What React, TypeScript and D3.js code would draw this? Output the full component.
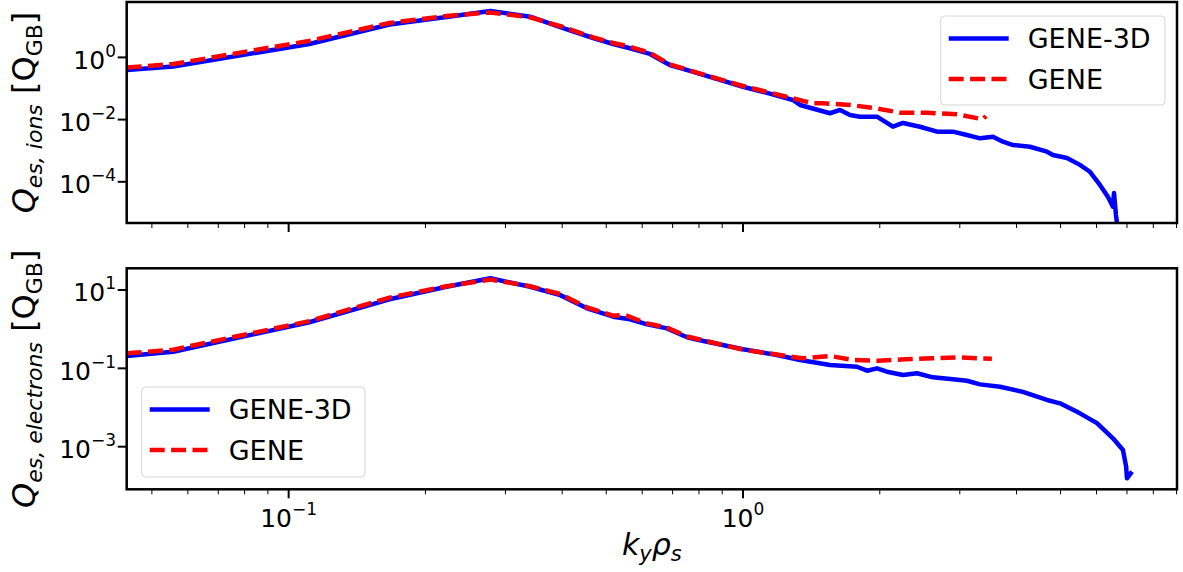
import * as d3 from "d3";

// ky rho_s grid and fluxes
const kyIons3D = [0.044, 0.0557, 0.111, 0.1667, 0.2226, 0.278, 0.34, 0.402, 0.468, 0.518, 0.564, 0.624, 0.69, 0.764, 1.0, 1.14, 1.288, 1.335, 1.554, 1.635, 1.72, 1.809, 1.972, 2.138, 2.249, 2.452, 2.673, 2.898, 3.111, 3.324, 3.549, 3.733, 3.929, 4.281, 4.667, 4.81, 5.164, 5.515, 5.802, 6.104, 6.355, 6.518, 6.555, 6.62, 6.686];
const qIons3D = [0.39, 0.51, 2.7, 11.4, 19.9, 31, 20.4, 8.8, 4.2, 2.7, 1.96, 1.29, 0.57, 0.37, 0.114, 0.07, 0.0427, 0.0295, 0.016, 0.0204, 0.0141, 0.0124, 0.0124, 0.0059, 0.0078, 0.0059, 0.0041, 0.0041, 0.0032, 0.0025, 0.0028, 0.00195, 0.00152, 0.00134, 0.00093, 0.00073, 0.00058, 0.00035, 0.00021, 0.000079, 0.000033, 0.0000158, 0.0000436, 0.0000086, 0.0000028];

const kyIonsGene = [0.044, 0.0557, 0.111, 0.1667, 0.2226, 0.278, 0.34, 0.402, 0.468, 0.518, 0.564, 0.624, 0.69, 0.764, 1.0, 1.14, 1.288, 1.426, 1.5, 1.72, 1.972, 2.216, 2.541, 2.958, 3.373, 3.425];
const qIonsGene = [0.47, 0.61, 3.4, 12.8, 21.4, 27.8, 19.5, 9.5, 4.4, 2.9, 2.2, 1.4, 0.6, 0.38, 0.12, 0.075, 0.048, 0.0334, 0.0334, 0.0295, 0.0228, 0.0167, 0.0167, 0.0148, 0.0102, 0.013];

const kyElec3D = [0.044, 0.0557, 0.111, 0.1667, 0.2226, 0.278, 0.34, 0.396, 0.4535, 0.518, 0.564, 0.615, 0.68, 0.753, 0.804, 1.0, 1.188, 1.335, 1.554, 1.782, 1.875, 1.972, 2.074, 2.25, 2.415, 2.618, 2.898, 3.111, 3.324, 3.679, 4.13, 4.667, 4.985, 5.515, 6.013, 6.52, 6.86, 6.97, 7.0, 7.18];
const qElec3D = [0.207, 0.266, 1.5, 5.79, 12.1, 19.9, 12.1, 7.4, 3.41, 2.08, 1.79, 1.33, 1.05, 0.62, 0.52, 0.306, 0.219, 0.163, 0.122, 0.11, 0.0871, 0.1, 0.0821, 0.0676, 0.0747, 0.059, 0.0525, 0.0483, 0.039, 0.034, 0.025, 0.0156, 0.0128, 0.0071, 0.004, 0.00164, 0.00082, 0.00031, 0.000156, 0.00023];

const kyElecGene = [0.044, 0.0557, 0.111, 0.1667, 0.2226, 0.278, 0.34, 0.396, 0.4535, 0.518, 0.55, 0.615, 0.68, 0.753, 1.0, 1.206, 1.349, 1.554, 1.746, 1.982, 2.273, 2.606, 2.973, 3.324, 3.53];
const qElecGene = [0.242, 0.3, 1.6, 6.4, 12.5, 18.5, 12.5, 7.9, 3.6, 2.2, 2.3, 1.4, 1.1, 0.65, 0.3, 0.219, 0.18, 0.207, 0.163, 0.156, 0.17, 0.18, 0.19, 0.18, 0.176];

const xMajor = [0.1, 1];
const xMajorExp = ["\u22121", "0"];
const ionsYTicks = [1, 0.01, 0.0001];
const ionsYExp = ["0", "\u22122", "\u22124"];
const elecYTicks = [10, 0.1, 0.001];
const elecYExp = ["1", "\u22121", "\u22123"];
const seriesNames = ["GENE-3D", "GENE"];

const W = 1183;
const H = 572;
const L = 126.7;
const R = 1177;
const FONT = "'DejaVu Sans', sans-serif";
const BLUE = "#0000ff";
const RED = "#ff0000";

const zip = (a, b) => a.map((v, i) => [v, b[i]]);

function Legend({ x, y, w, h }) {
  return (
    <g transform={`translate(${x},${y})`}>
      <rect width={w} height={h} rx={4} fill="#fff" fillOpacity={0.85} stroke="#d6d6d6" strokeWidth={1} />
      <line x1={8} x2={68} y1={22.5} y2={22.5} stroke={BLUE} strokeWidth={4.5} />
      <line x1={8} x2={68} y1={63} y2={63} stroke={RED} strokeWidth={4.5} strokeDasharray="15,6.4" />
      <text x={87} y={32} fontSize={27} fontFamily={FONT}>{seriesNames[0]}</text>
      <text x={87} y={73} fontSize={27} fontFamily={FONT}>{seriesNames[1]}</text>
    </g>
  );
}

export default function App() {
  const x = d3.scaleLog().domain([0.04401, 9.02]).range([L, R]);
  const minor = x.ticks().filter((t) => !xMajor.some((m) => Math.abs(m - t) < 1e-9));

  const panels = [
    {
      id: "ions",
      y0: 2,
      y1: 223,
      domain: [4.73e-6, 60.4],
      ticks: ionsYTicks,
      exps: ionsYExp,
      blue: zip(kyIons3D, qIons3D),
      red: zip(kyIonsGene, qIonsGene),
      sub: "es, ions",
      legend: { x: 940.7, y: 16, w: 224.3, h: 89 },
      xLabels: false,
    },
    {
      id: "elec",
      y0: 268.3,
      y1: 489.3,
      domain: [8.17e-5, 35.8],
      ticks: elecYTicks,
      exps: elecYExp,
      blue: zip(kyElec3D, qElec3D),
      red: zip(kyElecGene, qElecGene),
      sub: "es, electrons",
      legend: { x: 141.7, y: 387, w: 223.3, h: 90 },
      xLabels: true,
    },
  ];

  return (
    <svg width={W} height={H} style={{ position: "absolute", left: 0, top: 0, background: "#fff" }}>
      {panels.map((p) => {
        const y = d3.scaleLog().domain(p.domain).range([p.y1, p.y0]);
        const line = d3
          .line()
          .x((d) => x(d[0]))
          .y((d) => y(d[1]));
        const cy = (p.y0 + p.y1) / 2;
        return (
          <g key={p.id}>
            <defs>
              <clipPath id={`clip-${p.id}`}>
                <rect x={L} y={p.y0} width={R - L} height={p.y1 - p.y0} />
              </clipPath>
            </defs>
            <g clipPath={`url(#clip-${p.id})`}>
              <path d={line(p.blue)} fill="none" stroke={BLUE} strokeWidth={4.5} strokeLinejoin="round" />
              <path d={line(p.red)} fill="none" stroke={RED} strokeWidth={4.5} strokeDasharray="15,6.4" />
            </g>
            {/* x ticks */}
            {minor.map((t) => (
              <line key={`m${t}`} x1={x(t)} x2={x(t)} y1={p.y1} y2={p.y1 + 5} stroke="#000" strokeWidth={1} />
            ))}
            {xMajor.map((t, i) => (
              <g key={`M${t}`}>
                <line x1={x(t)} x2={x(t)} y1={p.y1} y2={p.y1 + 9} stroke="#000" strokeWidth={2} />
                {p.xLabels && (
                  <text x={x(t)} y={527} textAnchor="middle" fontSize={25} fontFamily={FONT}>
                    10<tspan dy={-12} fontSize={17}>{xMajorExp[i]}</tspan>
                  </text>
                )}
              </g>
            ))}
            {/* y ticks */}
            {p.ticks.map((t, i) => (
              <g key={`y${t}`}>
                <line x1={L - 9} x2={L} y1={y(t)} y2={y(t)} stroke="#000" strokeWidth={2} />
                <text x={116} y={y(t) + 11.5} textAnchor="end" fontSize={25} fontFamily={FONT}>
                  10<tspan dy={-12} fontSize={17}>{p.exps[i]}</tspan>
                </text>
              </g>
            ))}
            <rect x={L} y={p.y0} width={R - L} height={p.y1 - p.y0} fill="none" stroke="#000" strokeWidth={2.5} />
            <text transform={`translate(35,${cy}) rotate(-90)`} textAnchor="middle" fontSize={32} fontFamily={FONT}>
              <tspan fontStyle="italic">Q</tspan>
              <tspan fontStyle="italic" fontSize={22} dy={7}>{p.sub}</tspan>
              <tspan dy={-7}>{" ["}</tspan>
              <tspan>Q</tspan>
              <tspan fontSize={22} dy={7}>GB</tspan>
              <tspan dy={-7}>]</tspan>
            </text>
            <Legend {...p.legend} />
          </g>
        );
      })}
      <text x={(L + R) / 2} y={555} textAnchor="middle" fontSize={30} fontFamily={FONT}>
        <tspan fontStyle="italic">k</tspan>
        <tspan fontStyle="italic" fontSize={21} dy={6}>y</tspan>
        <tspan fontStyle="italic" dy={-6}>ρ</tspan>
        <tspan fontStyle="italic" fontSize={21} dy={6}>s</tspan>
      </text>
    </svg>
  );
}
